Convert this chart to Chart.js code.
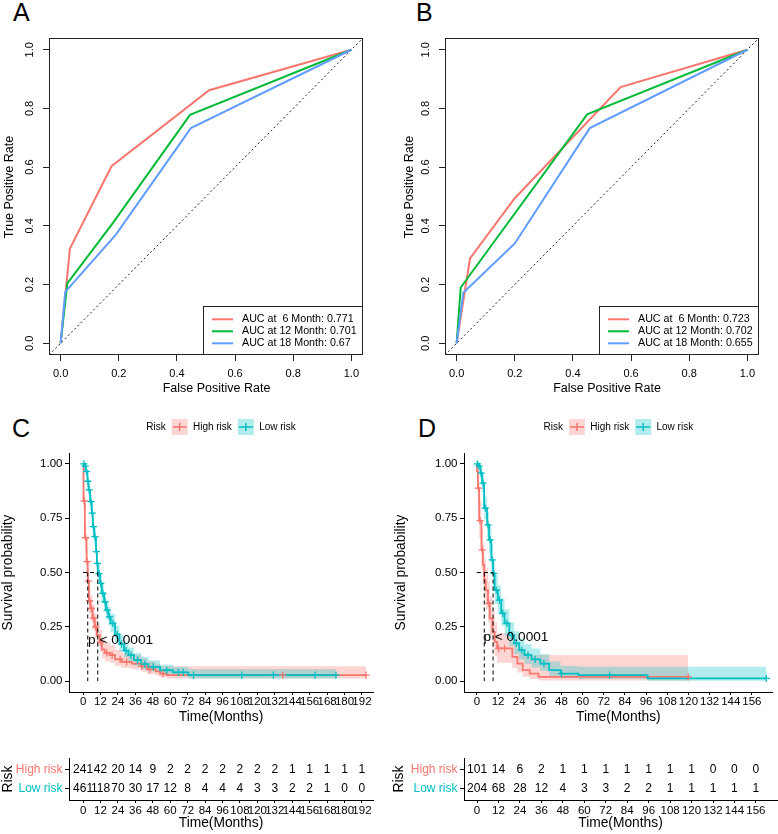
<!DOCTYPE html>
<html><head><meta charset="utf-8">
<script src="https://cdn.jsdelivr.net/npm/chart.js"></script>
<style>
body{margin:0;background:#fff;width:778px;height:834px;position:relative;overflow:hidden;font-family:"Liberation Sans",Arial,Helvetica,sans-serif;}
canvas{position:absolute;}
.lbl{position:absolute;font-size:25px;line-height:1;color:#000;}
</style></head><body>
<div class="lbl" style="left:13px;top:0px">A</div>
<div class="lbl" style="left:416px;top:0px">B</div>
<div class="lbl" style="left:12px;top:416px">C</div>
<div class="lbl" style="left:418px;top:416px">D</div>
<canvas id="cA" width="389" height="400" style="left:0;top:0"></canvas>
<canvas id="cB" width="389" height="400" style="left:389px;top:0"></canvas>
<canvas id="cC" width="389" height="325" style="left:0;top:405px"></canvas>
<canvas id="cD" width="389" height="325" style="left:389px;top:405px"></canvas>
<canvas id="tC" width="389" height="99" style="left:0;top:735px"></canvas>
<canvas id="tD" width="389" height="99" style="left:389px;top:735px"></canvas>
<script>
// ---------------- DATA ----------------
const rocTicks = [0, 0.2, 0.4, 0.6, 0.8, 1.0];
const rocNames = ['AUC at  6 Month', 'AUC at 12 Month', 'AUC at 18 Month'];
const rocColors = ['#F8766D', '#00BA38', '#619CFF'];
const diagX = [-0.04, 1.04];
const diagY = [-0.04, 1.04];

// Panel A
const aFpr6  = [0, 0.032, 0.175, 0.511, 1];
const aTpr6  = [0, 0.323, 0.603, 0.862, 1];
const aFpr12 = [0, 0.023, 0.18, 0.445, 1];
const aTpr12 = [0, 0.204, 0.41, 0.778, 1];
const aFpr18 = [0, 0.016, 0.19, 0.448, 1];
const aTpr18 = [0, 0.175, 0.37, 0.733, 1];
const aAuc = ['0.771', '0.701', '0.67'];

// Panel B
const bFpr6  = [0, 0.046, 0.2, 0.564, 1];
const bTpr6  = [0, 0.289, 0.494, 0.873, 1];
const bFpr12 = [0, 0.014, 0.449, 1];
const bTpr12 = [0, 0.19, 0.78, 1];
const bFpr18 = [0, 0.023, 0.2, 0.458, 1];
const bTpr18 = [0, 0.172, 0.34, 0.733, 1];
const bAuc = ['0.723', '0.702', '0.655'];

// Survival panels
const riskGroups = ['High risk', 'Low risk'];
const survTicks = [0, 0.25, 0.5, 0.75, 1];
const kmTicksC = [0, 12, 24, 36, 48, 60, 72, 84, 96, 108, 120, 132, 144, 156, 168, 180, 192];
const kmTicksD = [0, 12, 24, 36, 48, 60, 72, 84, 96, 108, 120, 132, 144, 156];

// Panel C - High risk
const cHighT  = [0, 0.3, 1.2, 2.4, 3.2, 4.0, 5.0, 6.5, 8.0, 9.5, 11.5, 13, 15, 18.6, 22, 26.6, 33.5, 40, 44, 50, 53, 57.6, 194.8];
const cHighS  = [1, .83, .66, .55, .46, .37, .335, .29, .25, .21, .18, .145, .13, .12, .10, .089, .081, .068, .054, .045, .035, .028, .028];
const cHighUp = [1, .87, .72, .61, .52, .43, .395, .35, .31, .265, .235, .195, .18, .165, .145, .13, .12, .105, .09, .08, .07, .068, .068];
const cHighLo = [1, .79, .60, .49, .40, .31, .28, .235, .20, .16, .135, .105, .09, .085, .07, .06, .055, .043, .032, .025, .018, .012, .012];
const cHighCensT = [0.8, 1.7, 2.8, 3.6, 4.5, 5.7, 7.2, 8.7, 12.2, 16.3, 20, 25.5, 30, 40.4, 46, 55, 137.4, 194.8];
const cHighCensS = [.83, .66, .55, .46, .37, .335, .29, .25, .18, .13, .12, .10, .089, .068, .054, .035, .028, .028];
// Panel C - Low risk
const cLowT  = [0, 1.0, 1.8, 3.0, 3.7, 4.8, 6.0, 6.7, 7.6, 8.9, 9.5, 10.1, 11.7, 12.8, 14.5, 15.8, 17.4, 19.0, 22.0, 25.0, 28.2, 31.2, 35, 40, 45, 53, 62, 72.5, 174.1];
const cLowS  = [1, .99, .965, .92, .88, .826, .773, .711, .665, .596, .542, .495, .45, .404, .365, .327, .296, .266, .215, .17, .14, .12, .097, .078, .066, .05, .04, .028, .028];
const cLowUp = [1, 1, .98, .945, .91, .86, .81, .75, .705, .64, .585, .54, .495, .45, .41, .37, .34, .31, .255, .21, .18, .155, .13, .11, .095, .075, .065, .055, .055];
const cLowLo = [1, .98, .95, .895, .85, .79, .735, .67, .625, .55, .50, .45, .405, .36, .32, .285, .255, .225, .18, .135, .11, .09, .07, .055, .045, .03, .022, .012, .012];
const cLowCensT = [0.5, 1.4, 2.4, 3.3, 4.2, 5.4, 6.3, 7.1, 8.2, 9.2, 9.8, 10.9, 12.2, 13.6, 15.1, 16.6, 18.2, 20.5, 23.5, 26.5, 29.5, 33, 37.5, 42.5, 48.4, 57.6, 65.6, 69, 76, 109.2, 131, 159.7, 174.1];
const cLowCensS = [1, .99, .965, .92, .88, .826, .773, .711, .665, .596, .542, .495, .45, .404, .365, .327, .296, .266, .215, .17, .14, .12, .097, .078, .066, .05, .04, .04, .028, .028, .028, .028, .028];
const cMedians = [3.2, 10.1];
const cPvalAt = [3.4, 0.19];
const cRiskHigh = [241, 42, 20, 14, 9, 2, 2, 2, 2, 2, 2, 2, 1, 1, 1, 1, 1];
const cRiskLow  = [461, 118, 70, 30, 17, 12, 8, 4, 4, 4, 3, 3, 2, 2, 1, 0, 0];

// Panel D - High risk
const dHighT  = [0, 0.1, 0.6, 1.3, 2.6, 3.4, 4.2, 5.0, 6.3, 7.3, 8.8, 10.1, 11.5, 20.1, 23.0, 26.0, 30.0, 35.0, 119.9];
const dHighS  = [1, .965, .888, .739, .604, .535, .465, .419, .358, .289, .227, .181, .151, .112, .081, .051, .035, .02, .02];
const dHighUp = [1, 1, .95, .83, .70, .635, .565, .52, .46, .39, .32, .27, .22, .18, .15, .13, .12, .12, .12];
const dHighLo = [1, .93, .83, .66, .51, .445, .375, .33, .27, .21, .155, .115, .085, .06, .04, .02, .01, .003, .003];
const dHighCensT = [0.9, 1.8, 3.0, 6.8, 12.3, 15.7, 119.9];
const dHighCensS = [.888, .739, .604, .358, .151, .151, .02];
// Panel D - Low risk
const dLowT  = [0, 0.7, 2.0, 2.9, 4.1, 5.8, 6.9, 8.2, 9.2, 10.1, 11.9, 13.8, 15.7, 18.4, 21.2, 24.0, 27, 31, 36, 41, 47.4, 57.6, 96.8, 164.2];
const dLowS  = [1, .99, .957, .911, .796, .719, .65, .558, .496, .419, .373, .312, .266, .212, .174, .143, .12, .1, .081, .051, .035, .028, .013, .013];
const dLowUp = [1, 1, .985, .95, .85, .78, .715, .625, .565, .49, .44, .38, .33, .27, .23, .195, .17, .15, .125, .09, .07, .066, .066, .066];
const dLowLo = [1, .975, .93, .87, .745, .66, .59, .495, .43, .355, .31, .255, .21, .16, .125, .10, .08, .063, .047, .025, .015, .01, .002, .002];
const dLowCensT = [0.3, 1.2, 2.4, 3.5, 4.8, 6.3, 7.5, 8.7, 9.6, 11, 12.8, 14.7, 17, 19.8, 22.5, 25.5, 29, 33, 38, 48, 75.3, 164.2];
const dLowCensS = [1, .99, .957, .911, .796, .719, .65, .558, .496, .419, .373, .312, .266, .212, .174, .143, .12, .1, .081, .035, .028, .013];
const dMedians = [4.2, 9.2];
const dPvalAt = [3.7, 0.2];
const dRiskHigh = [101, 14, 6, 2, 1, 1, 1, 1, 1, 1, 1, 0, 0, 0];
const dRiskLow  = [204, 68, 28, 12, 4, 3, 3, 2, 2, 1, 1, 1, 1, 1];

// ---------------- STYLE ----------------
const FONT = '"Liberation Sans", Arial, Helvetica, sans-serif';
const RED = '#F8766D', TEAL = '#00BFC4';
const RED_BAND = 'rgba(248,118,109,0.3)', TEAL_BAND = 'rgba(0,191,196,0.3)';
Chart.defaults.font.family = FONT;
Chart.defaults.color = '#000';

const pts = (X, Y) => X.map((x, i) => ({x: x, y: Y[i]}));
const fixedTicks = arr => (s => { s.ticks = arr.map(v => ({value: v})); });

// ROC decorations: box, rotated y labels, titles, legend
const rocDeco = {
  id: 'rocDeco',
  afterDraw(chart, args, o) {
    const {ctx, chartArea: ca, scales: {y}} = chart;
    ctx.save();
    ctx.strokeStyle = '#222'; ctx.lineWidth = 1;
    ctx.strokeRect(Math.round(ca.left) + 0.5, Math.round(ca.top) + 0.5, Math.round(ca.right - ca.left) - 1, Math.round(ca.bottom - ca.top) - 1);
    ctx.fillStyle = '#000'; ctx.textAlign = 'center'; ctx.textBaseline = 'middle';
    ctx.font = '11px ' + FONT;
    rocTicks.forEach(v => {
      ctx.save(); ctx.translate(ca.left - o.ylabOff, y.getPixelForValue(v)); ctx.rotate(-Math.PI / 2);
      ctx.fillText(v.toFixed(1), 0, 0); ctx.restore();
    });
    ctx.font = '12.5px ' + FONT;
    ctx.fillText(o.xTitle, o.xtX, o.xtY);
    ctx.save(); ctx.translate(o.ytX, o.ytY); ctx.rotate(-Math.PI / 2); ctx.fillText(o.yTitle, 0, 0); ctx.restore();
    const lw = 160, lh = 49, lx = ca.right - lw, ly = ca.bottom - lh;
    ctx.fillStyle = '#fff'; ctx.fillRect(lx, ly, lw, lh);
    ctx.strokeStyle = '#222'; ctx.lineWidth = 1;
    ctx.strokeRect(Math.round(lx) + 0.5, Math.round(ly) + 0.5, lw - 1, lh - 1);
    ctx.font = '10.7px ' + FONT; ctx.textAlign = 'left';
    chart.data.datasets.filter(d => d.inLegend).forEach((d, i) => {
      const yy = ly + 13.3 + i * 12;
      ctx.strokeStyle = d.borderColor; ctx.lineWidth = 2;
      ctx.beginPath(); ctx.moveTo(lx + 9, yy); ctx.lineTo(lx + 30, yy); ctx.stroke();
      ctx.fillStyle = '#000'; ctx.fillText(d.label, lx + 39, yy);
    });
    ctx.restore();
  }
};

function rocChart(id, fprs, tprs, aucs, geo) {
  const datasets = fprs.map((f, i) => ({
    label: rocNames[i] + ': ' + aucs[i], inLegend: true,
    data: pts(f, tprs[i]), borderColor: rocColors[i], borderWidth: 2,
    pointRadius: 0, tension: 0, fill: false, order: 3 - i
  }));
  datasets.push({label: 'reference', data: pts(diagX, diagY), borderColor: '#222', borderWidth: 1,
    borderDash: [2, 2.5], pointRadius: 0, fill: false, order: 5});
  const axisCommon = {
    type: 'linear', min: -0.04, max: 1.04,
    afterBuildTicks: fixedTicks(rocTicks),
    grid: {drawOnChartArea: false, drawTicks: true, tickLength: 6, color: '#222'},
    border: {display: false}
  };
  new Chart(document.getElementById(id), {
    type: 'line',
    data: {datasets},
    options: {
      animation: false, responsive: false, devicePixelRatio: 1, events: [],
      layout: {padding: {top: geo.top, right: geo.right, left: 0, bottom: 0}},
      plugins: {legend: {display: false}, tooltip: {enabled: false},
        rocDeco: Object.assign({xTitle: 'False Positive Rate', yTitle: 'True Positive Rate'}, geo)},
      scales: {
        x: Object.assign({}, axisCommon, {
          afterFit: s => { s.height = geo.xh; },
          ticks: {font: {size: 11}, color: '#000', padding: 6.4, autoSkip: false, maxRotation: 0, callback: v => Number(v).toFixed(1)}
        }),
        y: Object.assign({}, axisCommon, {
          afterFit: s => { s.width = geo.yw; },
          ticks: {display: false}
        })
      }
    },
    plugins: [rocDeco]
  });
}

// KM decorations: legend and p-value
const kmDeco = {
  id: 'kmDeco',
  afterDatasetsDraw(chart, args, o) {
    const {ctx, chartArea: ca, scales: {x, y}} = chart;
    ctx.save();
    ctx.fillStyle = '#000'; ctx.textAlign = 'left'; ctx.textBaseline = 'middle';
    ctx.font = '13.7px ' + FONT;
    ctx.fillText(o.pText, x.getPixelForValue(o.pAt[0]), y.getPixelForValue(o.pAt[1]));
    ctx.font = '10px ' + FONT;
    const key = 16, g1 = 6, g2 = 5.3, g3 = 6;
    const tW = ctx.measureText(o.title).width;
    let total = tW + g1;
    o.groups.forEach((g, i) => { total += key + g2 + ctx.measureText(g.label).width + (i < o.groups.length - 1 ? g3 : 0); });
    let cx = (ca.left + ca.right) / 2 - total / 2;
    const cy = o.legY;
    ctx.fillText(o.title, cx, cy); cx += tW + g1;
    o.groups.forEach(g => {
      ctx.fillStyle = g.band; ctx.fillRect(cx, cy - 8, key, key);
      ctx.strokeStyle = g.color; ctx.lineWidth = 1.5;
      ctx.beginPath(); ctx.moveTo(cx + 1, cy); ctx.lineTo(cx + key - 1, cy);
      ctx.moveTo(cx + key / 2, cy - 4); ctx.lineTo(cx + key / 2, cy + 4); ctx.stroke();
      cx += key + g2;
      ctx.fillStyle = '#000'; ctx.fillText(g.label, cx, cy);
      cx += ctx.measureText(g.label).width + g3;
    });
    ctx.restore();
  }
};

function kmAxes(cfg, xTitle) {
  return {
    x: {type: 'linear', min: cfg.xmin, max: cfg.xmax,
      afterFit: s => { s.height = cfg.xh; }, afterBuildTicks: fixedTicks(cfg.ticks),
      grid: {drawOnChartArea: false, drawTicks: true, tickLength: 3, color: '#000'},
      border: {display: true, color: '#000', width: 1},
      ticks: {font: {size: 11.5}, color: '#000', padding: cfg.xtickPad, autoSkip: false, maxRotation: 0, minRotation: 0},
      title: {display: true, text: xTitle, font: {size: 13.8}, color: '#000', padding: {top: 0, bottom: cfg.xtPad}}
    }
  };
}

function kmChart(id, cfg) {
  const line = (label, T, S, extra) => Object.assign({label, data: pts(T, S), stepped: true, pointRadius: 0, fill: false}, extra);
  const datasets = [
    line('High risk upper', cfg.hT, cfg.hUp, {fill: '+1', backgroundColor: RED_BAND, borderColor: 'transparent', borderWidth: 0, order: 10}),
    line('High risk lower', cfg.hT, cfg.hLo, {borderColor: 'transparent', borderWidth: 0, order: 10}),
    line('Low risk upper', cfg.lT, cfg.lUp, {fill: '+1', backgroundColor: TEAL_BAND, borderColor: 'transparent', borderWidth: 0, order: 9}),
    line('Low risk lower', cfg.lT, cfg.lLo, {borderColor: 'transparent', borderWidth: 0, order: 9}),
    line('High risk', cfg.hT, cfg.hS, {borderColor: RED, borderWidth: 1.8, order: 6}),
    line('Low risk', cfg.lT, cfg.lS, {borderColor: TEAL, borderWidth: 1.8, order: 5}),
    {label: 'High risk censor', data: pts(cfg.hcT, cfg.hcS), showLine: false, pointStyle: 'cross', pointRadius: 3.6,
      pointBorderColor: RED, pointBorderWidth: 1.3, order: 4},
    {label: 'Low risk censor', data: pts(cfg.lcT, cfg.lcS), showLine: false, pointStyle: 'cross', pointRadius: 3.6,
      pointBorderColor: TEAL, pointBorderWidth: 1.3, order: 3},
    {label: 'median', data: [{x: 0, y: 0.5}, {x: Math.max(...cfg.med), y: 0.5}], borderColor: '#000', borderWidth: 1,
      borderDash: [4, 3], pointRadius: 0, fill: false, order: 1}
  ];
  cfg.med.forEach(m => datasets.push({label: 'median', data: [{x: m, y: 0.5}, {x: m, y: 0}], borderColor: '#000',
    borderWidth: 1, borderDash: [4, 3], pointRadius: 0, fill: false, order: 1}));
  const scales = kmAxes(cfg, 'Time(Months)');
  scales.y = {type: 'linear', min: -0.05, max: 1.05,
    afterFit: s => { s.width = cfg.yw; }, afterBuildTicks: fixedTicks(survTicks),
    grid: {drawOnChartArea: false, drawTicks: true, tickLength: 4, color: '#000'},
    border: {display: true, color: '#000', width: 1},
    ticks: {font: {size: 11.5}, color: '#000', padding: 2.5, callback: v => Number(v).toFixed(2)},
    title: {display: true, text: 'Survival probability', font: {size: 13.8}, color: '#000', padding: {top: cfg.ytPad, bottom: 0}}
  };
  new Chart(document.getElementById(id), {
    type: 'line',
    data: {datasets},
    options: {
      animation: false, responsive: false, devicePixelRatio: 1, events: [],
      layout: {padding: {top: cfg.top, right: cfg.right, left: 0, bottom: 0}},
      plugins: {legend: {display: false}, tooltip: {enabled: false},
        kmDeco: {pText: 'p < 0.0001', pAt: cfg.pAt, title: 'Risk', legY: 22,
          groups: [{label: riskGroups[0], color: RED, band: RED_BAND}, {label: riskGroups[1], color: TEAL, band: TEAL_BAND}]}},
      scales
    },
    plugins: [kmDeco]
  });
}

const riskDeco = {
  id: 'riskDeco',
  afterDatasetsDraw(chart) {
    const {ctx, scales: {x, y}} = chart;
    ctx.save();
    ctx.font = '12px ' + FONT; ctx.fillStyle = '#000'; ctx.textAlign = 'center'; ctx.textBaseline = 'middle';
    chart.data.datasets.forEach(ds => ds.data.forEach((p, i) => {
      ctx.fillText(String(ds.counts[i]), x.getPixelForValue(p.x), y.getPixelForValue(p.y));
    }));
    ctx.restore();
  }
};

function riskChart(id, cfg) {
  const scales = kmAxes(cfg, 'Time(Months)');
  scales.y = {type: 'linear', min: 0.4, max: 2.6,
    afterFit: s => { s.width = cfg.yw; }, afterBuildTicks: fixedTicks([1, 2]),
    grid: {drawOnChartArea: false, drawTicks: true, tickLength: 4, color: '#000'},
    border: {display: true, color: '#000', width: 1},
    ticks: {font: {size: 12}, padding: 2.5, callback: v => (v === 2 ? riskGroups[0] : riskGroups[1]),
      color: c => (c.tick && c.tick.value === 2 ? RED : TEAL)},
    title: {display: true, text: 'Risk', font: {size: 13.8}, color: '#000', padding: {top: cfg.ytPad, bottom: 0}}
  };
  new Chart(document.getElementById(id), {
    type: 'scatter',
    data: {datasets: [
      {label: riskGroups[0], data: cfg.ticks.map(t => ({x: t, y: 2})), counts: cfg.high, pointRadius: 0},
      {label: riskGroups[1], data: cfg.ticks.map(t => ({x: t, y: 1})), counts: cfg.low, pointRadius: 0}
    ]},
    options: {
      animation: false, responsive: false, devicePixelRatio: 1, events: [],
      layout: {padding: {top: 23, right: cfg.right, left: 0, bottom: 0}},
      plugins: {legend: {display: false}, tooltip: {enabled: false}},
      scales
    },
    plugins: [riskDeco]
  });
}

// ---------------- BUILD ----------------
rocChart('cA', [aFpr6, aFpr12, aFpr18], [aTpr6, aTpr12, aTpr18], aAuc,
  {top: 38, right: 26, yw: 49, xh: 45, ylabOff: 19, ytX: 10, ytY: 187, xtX: 216.5, xtY: 389});
rocChart('cB', [bFpr6, bFpr12, bFpr18], [bTpr6, bTpr12, bTpr18], bAuc,
  {top: 38, right: 19, yw: 56, xh: 45, ylabOff: 19, ytX: 21, ytY: 187, xtX: 218, xtY: 389});

kmChart('cC', {hT: cHighT, hS: cHighS, hUp: cHighUp, hLo: cHighLo, hcT: cHighCensT, hcS: cHighCensS,
  lT: cLowT, lS: cLowS, lUp: cLowUp, lLo: cLowLo, lcT: cLowCensT, lcS: cLowCensS,
  med: cMedians, pAt: cPvalAt, ticks: kmTicksC, xmin: -9.7, xmax: 199.6,
  top: 48, right: 16, yw: 69, xh: 38, xtickPad: 0, xtPad: 4.7, ytPad: 0});
kmChart('cD', {hT: dHighT, hS: dHighS, hUp: dHighUp, hLo: dHighLo, hcT: dHighCensT, hcS: dHighCensS,
  lT: dLowT, lS: dLowS, lUp: dLowUp, lLo: dLowLo, lcT: dLowCensT, lcS: dLowCensS,
  med: dMedians, pAt: dPvalAt, ticks: kmTicksD, xmin: -7.3, xmax: 167.8,
  top: 48, right: 1, yw: 75, xh: 38, xtickPad: 0, xtPad: 4.7, ytPad: 3.5});

riskChart('tC', {ticks: kmTicksC, high: cRiskHigh, low: cRiskLow, xmin: -9.7, xmax: 199.6,
  right: 16, yw: 69, xh: 34, xtickPad: 1.1, xtPad: 2.7, ytPad: 0});
riskChart('tD', {ticks: kmTicksD, high: dRiskHigh, low: dRiskLow, xmin: -7.3, xmax: 167.8,
  right: 1, yw: 75, xh: 34, xtickPad: 1.1, xtPad: 2.7, ytPad: 2.2});
</script>
</body></html>
